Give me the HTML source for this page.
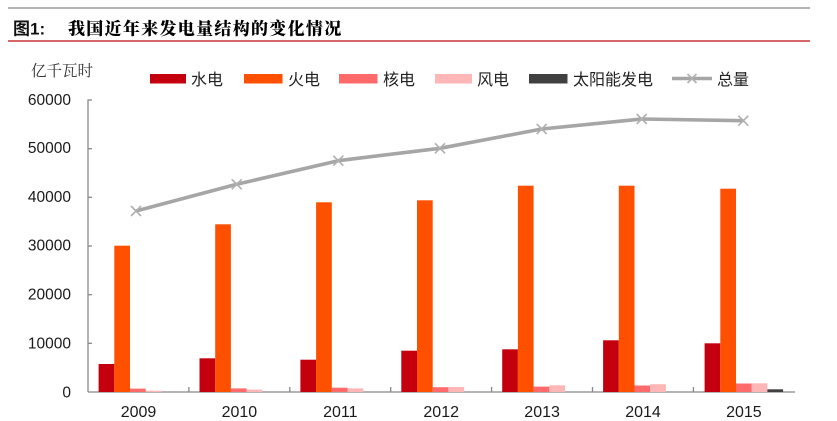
<!DOCTYPE html>
<html><head><meta charset="utf-8"><style>
html,body{margin:0;padding:0;background:#fff;}
svg{display:block;}
</style></head><body>
<svg width="837" height="421" viewBox="0 0 837 421" xmlns="http://www.w3.org/2000/svg">
<rect width="837" height="421" fill="#fff"/>
<line x1="8" y1="8" x2="810" y2="8" stroke="#9a9a9a" stroke-width="1.6"/>
<line x1="8" y1="41" x2="810" y2="41" stroke="#c8363c" stroke-width="1.6"/>
<text x="13" y="34.5" font-family="Liberation Sans, 'Noto Sans CJK SC', sans-serif" font-size="17" font-weight="bold" fill="#111">图1:</text>
<text x="68" y="34.5" font-family="'Noto Serif CJK SC', serif" font-size="17" font-weight="900" fill="#000" letter-spacing="1.3">我国近年来发电量结构的变化情况</text>

<text x="31" y="76" font-family="'Noto Serif CJK SC', serif" font-size="15.5" fill="#333">亿千瓦时</text>

<!-- legend -->
<g font-family="Liberation Sans, 'Noto Sans CJK SC', sans-serif" font-size="16" fill="#222">
<rect x="150" y="74" width="36" height="9.5" fill="#c4000f"/><text x="191" y="85">水电</text>
<rect x="244" y="74" width="38.5" height="9.5" fill="#ff5000"/><text x="288" y="85">火电</text>
<rect x="339" y="74" width="38.5" height="9.5" fill="#ff6b6b"/><text x="383" y="85">核电</text>
<rect x="435" y="74" width="37" height="9.5" fill="#ffb6b6"/><text x="477" y="85">风电</text>
<rect x="529" y="74" width="38.5" height="9.5" fill="#404040"/><text x="573" y="85">太阳能发电</text>
<line x1="672" y1="78.5" x2="712" y2="78.5" stroke="#a6a6a6" stroke-width="3.5"/>
<path d="M687.5 74 L696.5 83 M696.5 74 L687.5 83" stroke="#b0b0b0" stroke-width="1.6"/>
<text x="717" y="85">总量</text>
</g>

<!-- y axis labels -->
<g font-family="Liberation Sans, sans-serif" font-size="15.5" fill="#1a1a1a" text-anchor="end">
<text x="71" y="105">60000</text>
<text x="71" y="153">50000</text>
<text x="71" y="202">40000</text>
<text x="71" y="250.5">30000</text>
<text x="71" y="299.5">20000</text>
<text x="71" y="348.5">10000</text>
<text x="71" y="397.5">0</text>
</g>

<!-- axes -->
<g stroke="#888" stroke-width="1.3" fill="none">
<line x1="88" y1="99.5" x2="88" y2="392"/>
<line x1="88" y1="392" x2="795" y2="392"/>
<line x1="88" y1="100" x2="92" y2="100"/>
<line x1="88" y1="148.7" x2="92" y2="148.7"/>
<line x1="88" y1="197.3" x2="92" y2="197.3"/>
<line x1="88" y1="246" x2="92" y2="246"/>
<line x1="88" y1="294.7" x2="92" y2="294.7"/>
<line x1="88" y1="343.3" x2="92" y2="343.3"/>
<line x1="188.9" y1="387" x2="188.9" y2="392"/>
<line x1="289.8" y1="387" x2="289.8" y2="392"/>
<line x1="390.7" y1="387" x2="390.7" y2="392"/>
<line x1="491.6" y1="387" x2="491.6" y2="392"/>
<line x1="592.5" y1="387" x2="592.5" y2="392"/>
<line x1="693.4" y1="387" x2="693.4" y2="392"/>
</g>

<!-- bars -->
<g>
<!-- 2009 -->
<rect x="98.6" y="364" width="15.7" height="28" fill="#c4000f"/>
<rect x="114.3" y="245.7" width="15.7" height="146.3" fill="#ff5000"/>
<rect x="130" y="388.6" width="15.7" height="3.4" fill="#ff6b6b"/>
<rect x="145.7" y="390.7" width="15.7" height="1.3" fill="#ffb6b6"/>
<!-- 2010 -->
<rect x="199.5" y="358.3" width="15.7" height="33.7" fill="#c4000f"/>
<rect x="215.2" y="224.3" width="15.7" height="167.7" fill="#ff5000"/>
<rect x="230.9" y="388.4" width="15.7" height="3.6" fill="#ff6b6b"/>
<rect x="246.6" y="389.6" width="15.7" height="2.4" fill="#ffb6b6"/>
<!-- 2011 -->
<rect x="300.4" y="359.7" width="15.7" height="32.3" fill="#c4000f"/>
<rect x="316.1" y="202.3" width="15.7" height="189.7" fill="#ff5000"/>
<rect x="331.8" y="387.7" width="15.7" height="4.3" fill="#ff6b6b"/>
<rect x="347.5" y="388.4" width="15.7" height="3.6" fill="#ffb6b6"/>
<!-- 2012 -->
<rect x="401.3" y="350.7" width="15.7" height="41.3" fill="#c4000f"/>
<rect x="417" y="200.3" width="15.7" height="191.7" fill="#ff5000"/>
<rect x="432.7" y="387.2" width="15.7" height="4.8" fill="#ff6b6b"/>
<rect x="448.4" y="387" width="15.7" height="5" fill="#ffb6b6"/>
<!-- 2013 -->
<rect x="502.2" y="349.3" width="15.7" height="42.7" fill="#c4000f"/>
<rect x="517.9" y="185.7" width="15.7" height="206.3" fill="#ff5000"/>
<rect x="533.6" y="386.6" width="15.7" height="5.4" fill="#ff6b6b"/>
<rect x="549.3" y="385.3" width="15.7" height="6.7" fill="#ffb6b6"/>
<!-- 2014 -->
<rect x="603.1" y="340.3" width="15.7" height="51.7" fill="#c4000f"/>
<rect x="618.8" y="185.7" width="15.7" height="206.3" fill="#ff5000"/>
<rect x="634.5" y="385.5" width="15.7" height="6.5" fill="#ff6b6b"/>
<rect x="650.2" y="384.2" width="15.7" height="7.8" fill="#ffb6b6"/>
<!-- 2015 -->
<rect x="704.6" y="343.3" width="15.7" height="48.7" fill="#c4000f"/>
<rect x="720.3" y="188.7" width="15.7" height="203.3" fill="#ff5000"/>
<rect x="736" y="383.5" width="15.7" height="8.5" fill="#ff6b6b"/>
<rect x="751.7" y="383.3" width="15.7" height="8.7" fill="#ffb6b6"/>
<rect x="767.4" y="389.3" width="15.7" height="2.7" fill="#404040"/>
</g>

<!-- total line -->
<polyline points="136,211 236.7,184.3 338.3,160.7 440,148.3 541.7,129 641.7,119 743.3,120.7" fill="none" stroke="#a6a6a6" stroke-width="3.6" stroke-linejoin="round"/>
<g stroke="#b0b0b0" stroke-width="1.6">
<path d="M131 206 L141 216 M141 206 L131 216"/>
<path d="M231.7 179.3 L241.7 189.3 M241.7 179.3 L231.7 189.3"/>
<path d="M333.3 155.7 L343.3 165.7 M343.3 155.7 L333.3 165.7"/>
<path d="M435 143.3 L445 153.3 M445 143.3 L435 153.3"/>
<path d="M536.7 124 L546.7 134 M546.7 124 L536.7 134"/>
<path d="M636.7 114 L646.7 124 M646.7 114 L636.7 124"/>
<path d="M738.3 115.7 L748.3 125.7 M748.3 115.7 L738.3 125.7"/>
</g>

<!-- x labels -->
<g font-family="Liberation Sans, sans-serif" font-size="16" fill="#1a1a1a" text-anchor="middle">
<text x="138.5" y="417">2009</text>
<text x="239.4" y="417">2010</text>
<text x="340.3" y="417">2011</text>
<text x="441.2" y="417">2012</text>
<text x="542.1" y="417">2013</text>
<text x="643" y="417">2014</text>
<text x="743.9" y="417">2015</text>
</g>
</svg>
</body></html>
